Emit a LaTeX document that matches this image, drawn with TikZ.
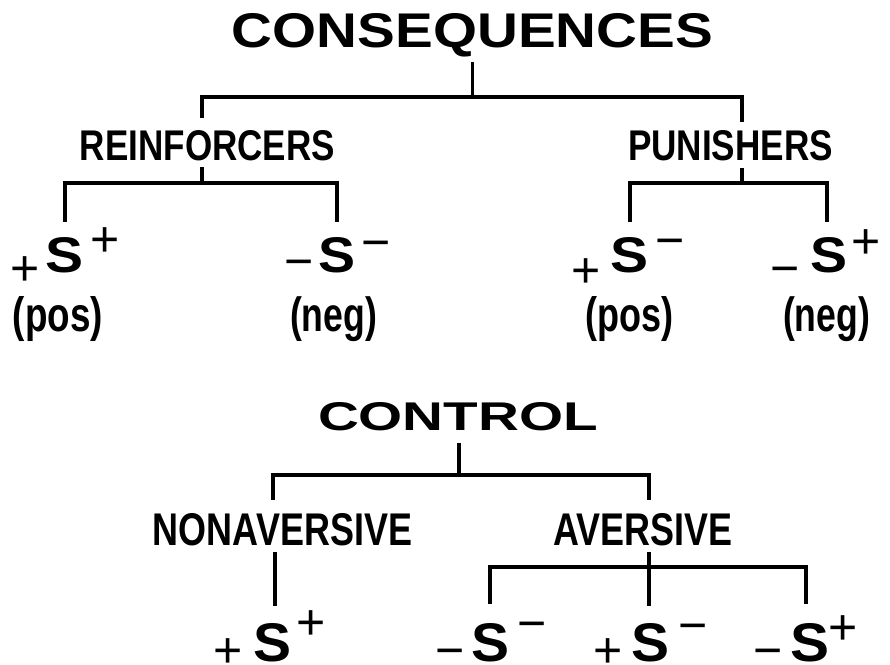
\documentclass[tikz,border=0pt]{standalone}
\usepackage{fontspec}
\usepackage{graphicx}
\setmainfont{Liberation Sans}
\newfontfamily\signfamily{Liberation Sans}
\newcommand\signfont{\signfamily\fontsize{50pt}{50pt}\selectfont}
% stretch a bold label to a given ink width and cap height
\newcommand\capsto[3]{\resizebox{#1}{#2}{\bfseries #3}}
% same, but the height counts the depth too (parentheses)
\newcommand\fullto[3]{\resizebox*{#1}{#2}{\bfseries #3}}
\begin{document}
\begin{tikzpicture}[x=1pt,y=-1pt,
  lbl/.style={inner sep=0pt, anchor=base},
  mid/.style={inner sep=0pt, anchor=center},
  sign/.style={inner sep=0pt, anchor=base, font=\signfont},
  link/.style={line width=3.5pt, line join=miter}]
\fill[white] (0,0) rectangle (890,664);
\useasboundingbox (0,0) rectangle (890,664);

% ---------- upper tree ----------
\node[lbl] (cons)  at (472.5,47)  {\capsto{481pt}{34pt}{CONSEQUENCES}};
\node[lbl] (reinf) at (207.5,160) {\capsto{255pt}{30pt}{REINFORCERS}};
\node[lbl] (pun)   at (730.5,160) {\capsto{205pt}{30pt}{PUNISHERS}};

% S symbols
\node[lbl] (s1) at (64.5,272)  {\capsto{38pt}{35pt}{S}};
\node[lbl] (s2) at (336.5,272) {\capsto{37pt}{35pt}{S}};
\node[lbl] (s3) at (629.5,272) {\capsto{38pt}{35pt}{S}};
\node[lbl] (s4) at (828.5,272) {\capsto{37pt}{35pt}{S}};

% prefixes and superscripts
\node[sign] (p1) at (25,285)     {+};
\node[sign] (u1) at (105.5,256)  {+};
\node[sign] (p2) at (299.5,278.5){−};
\node[sign] (u2) at (376,259.5)  {−};
\node[sign] (p3) at (586.5,287.5){+};
\node[sign] (u3) at (670,257.5)  {−};
\node[sign] (p4) at (785.5,285.5){−};
\node[sign] (u4) at (866.5,258.5){+};

% kinds
\node[mid] (k1) at (58,319.5)    {\fullto{90pt}{45pt}{(pos)}};
\node[mid] (k2) at (333.5,319.5) {\fullto{87pt}{45pt}{(neg)}};
\node[mid] (k3) at (629,319.5)   {\fullto{88pt}{45pt}{(pos)}};
\node[mid] (k4) at (826.5,319.5) {\fullto{87pt}{45pt}{(neg)}};

% connectors
\draw[link] ([yshift=-15pt]cons.base) -- ([yshift=-50pt]cons.base);
\draw[link] ([xshift=-5.5pt,yshift=12pt]reinf.north) |- ([yshift=-50pt]cons.base)
            -| ([xshift=11.5pt,yshift=8pt]pun.north);
\draw[link] ([xshift=-5.5pt,yshift=-7pt]reinf.base) -- ([xshift=-5.5pt,yshift=-23pt]reinf.base);
\draw[link] ([xshift=0.5pt,yshift=15pt]s1.north) |- ([xshift=-5.5pt,yshift=-23pt]reinf.base)
            -| ([xshift=0.5pt,yshift=15pt]s2.north);
\draw[link] ([xshift=11.5pt,yshift=-8pt]pun.base) -- ([xshift=11.5pt,yshift=-23pt]pun.base);
\draw[link] ([xshift=0.5pt,yshift=15pt]s3.north) |- ([xshift=11.5pt,yshift=-23pt]pun.base)
            -| ([xshift=-1.5pt,yshift=15pt]s4.north);

% ---------- lower tree ----------
\node[lbl] (ctrl)  at (458,430)   {\capsto{280pt}{28pt}{CONTROL}};
\node[lbl] (nonav) at (282.5,545) {\capsto{259pt}{32pt}{NONAVERSIVE}};
\node[lbl] (avers) at (642.5,545) {\capsto{179pt}{32pt}{AVERSIVE}};

\node[lbl] (s5) at (272.5,661) {\capsto{38pt}{38pt}{S}};
\node[lbl] (s6) at (490.5,661) {\capsto{38pt}{38pt}{S}};
\node[lbl] (s7) at (650.5,661) {\capsto{38pt}{38pt}{S}};
\node[lbl] (s8) at (810,661)   {\capsto{39pt}{38pt}{S}};

\node[sign] (p5) at (228,667.5)   {+};
\node[sign] (u5) at (311.5,639)   {+};
\node[sign] (p6) at (450,667.5)   {−};
\node[sign] (u6) at (532.5,640.5) {−};
\node[sign] (p7) at (608.5,667.5) {+};
\node[sign] (u7) at (693.5,642.5) {−};
\node[sign] (p8) at (768,667.5)   {−};
\node[sign] (u8) at (843.5,644.5) {+};

\draw[link] ([xshift=1pt,yshift=-13pt]ctrl.base) -- ([xshift=1pt,yshift=-45pt]ctrl.base);
\draw[link] ([xshift=-9.5pt,yshift=13pt]nonav.north) |- ([xshift=1pt,yshift=-45pt]ctrl.base)
            -| ([xshift=6.5pt,yshift=13pt]avers.north);
\draw[link] ([xshift=-7.5pt,yshift=-7pt]nonav.base) -- ([xshift=2.5pt,yshift=17pt]s5.north);
\draw[link] ([xshift=6.5pt,yshift=-7pt]avers.base) -- ([xshift=-1.5pt,yshift=17pt]s7.north);
\draw[link] ([xshift=-0.5pt,yshift=19pt]s6.north) |- ([xshift=6.5pt,yshift=-22pt]avers.base)
            -| ([xshift=-4pt,yshift=19pt]s8.north);
\end{tikzpicture}
\end{document}
